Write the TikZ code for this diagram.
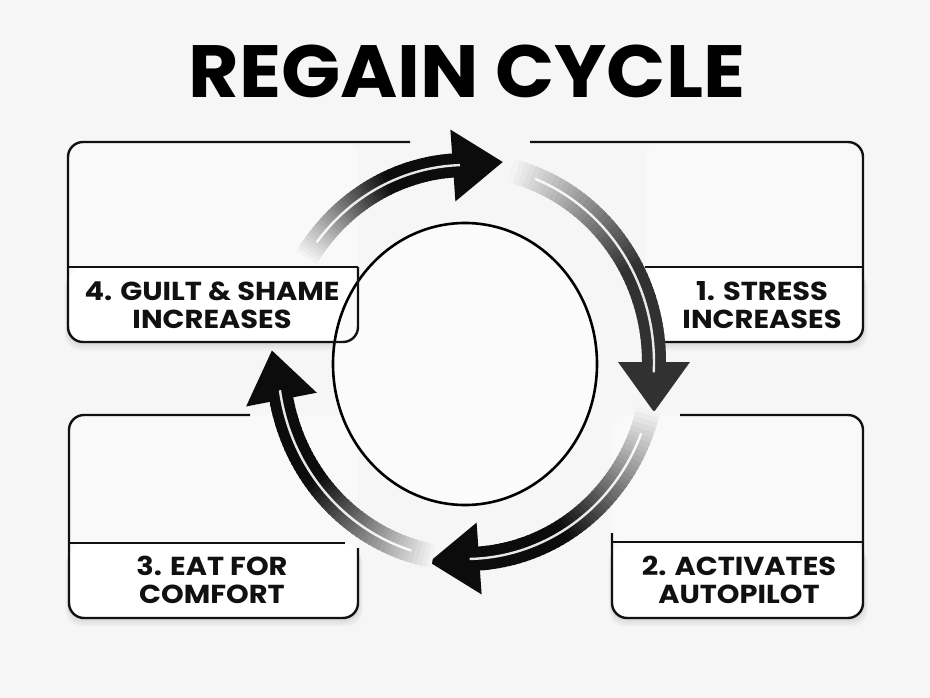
\documentclass[tikz,border=0pt]{standalone}
\usepackage{fontspec}
\setmainfont{Poppins}
\newfontfamily\lblfont{Poppins}[FakeStretch=1.11]
\newfontfamily\ttlfont{Poppins}[FakeStretch=1.05]
\definecolor{bgc}{HTML}{F6F6F6}
\definecolor{boxc}{HTML}{F9F9F9}
\definecolor{inkc}{HTML}{111111}
\tikzset{
  boxline/.style={draw=inkc, line width=2.4pt, rounded corners=15pt},
  divline/.style={draw=inkc, line width=2.4pt},
  lbl/.style={font=\lblfont\fontsize{26}{27.5}\selectfont\bfseries, text=inkc, align=center, inner sep=0pt},
  ttl/.style={font=\ttlfont\fontsize{74}{80}\selectfont\bfseries, text=black, inner sep=0pt, anchor=base},
  ring/.style={draw=black, line width=2.6pt},
}
\newcommand{\shadowbox}[4]{%
  \foreach \k in {1,...,8}{
    \fill[black, opacity=0.014, rounded corners=16pt] ({#1-\k*0.4},{#2+\k*0.6}) rectangle ({#3+\k*0.6},{#4+\k*1.1});
  }}
\newcommand{\cyclearrow}[4]{% tail angle, base angle, max darkness, label
  \foreach \i in {0,...,47}{
    \pgfmathsetmacro\ta{#1+(#2-#1)*\i/48}
    \pgfmathsetmacro\tb{#1+(#2-#1)*(\i+1.4)/48}
    \pgfmathsetmacro\pp{#3*min(1,1.6*(\i+0.5)/48)}
    \draw[line width=24pt, color=black!\pp!bgc] plot[domain=\ta:\tb, samples=4] ({466+188*cos(\x)},{362-197*sin(\x)});
  }
  \coordinate (#4tip) at ({466+188*cos(#2)+50*sin(#2)},{362-197*sin(#2)+50*cos(#2)});
  \coordinate (#4c1) at ({466+(188+36)*cos(#2)},{362-(197+36)*sin(#2)});
  \coordinate (#4c2) at ({466+(188-36)*cos(#2)},{362-(197-36)*sin(#2)});
  \fill[black!#3!bgc] (#4tip) -- (#4c1) -- (#4c2) -- cycle;
  \pgfmathsetmacro\ts{#1+(#2-#1)*0.1}
  \pgfmathsetmacro\te{#2+(#2-#1)*0.04}
  \draw[white, line width=2.4pt, opacity=0.9] plot[domain=\ts:\te, samples=40] ({466+188*cos(\x)},{362-197*sin(\x)});
}
\begin{document}
\begin{tikzpicture}[x=1pt,y=-1pt]
\fill[bgc] (0,0) rectangle (930,698);
\useasboundingbox (0,0) rectangle (930,698);

% title
\node[ttl] (title) at (467,98) {REGAIN CYCLE};

% shadows
\shadowbox{68}{267}{358}{342}
\shadowbox{645}{267}{863}{342}
\shadowbox{69}{543}{358}{618}
\shadowbox{612}{542}{863}{618}

% box fills
\fill[boxc, rounded corners=15pt] (68,142) rectangle (358,342);
\fill[boxc, rounded corners=15pt] (645,142) rectangle (863,342);
\fill[boxc, rounded corners=15pt] (69,415) rectangle (358,618);
\fill[boxc, rounded corners=15pt] (612,415) rectangle (863,618);
\fill[white, rounded corners=15pt] (68,267) rectangle (358,342);
\fill[white, rounded corners=15pt] (645,267) rectangle (863,342);
\fill[white, rounded corners=15pt] (69,543) rectangle (358,618);
\fill[white, rounded corners=15pt] (612,542) rectangle (863,618);

% inner circle
\fill[white!60!bgc] (465,364) ellipse [x radius=132pt, y radius=141pt];
\draw[ring] (465,364) ellipse [x radius=132pt, y radius=141pt];

% box outlines
\draw[boxline] (410,142) -- (68,142) -- (68,342) -- (358,342) -- (358,267);
\draw[divline] (68,267) -- (358,267);
\draw[boxline] (530,142) -- (863,142) -- (863,342) -- (665,342);
\draw[divline] (645,267) -- (863,267);
\draw[boxline] (250,415) -- (69,415) -- (69,618) -- (358,618) -- (358,548);
\draw[divline] (69,543) -- (345,543);
\draw[boxline] (680,415) -- (863,415) -- (863,618) -- (612,618) -- (612,533);
\draw[divline] (612,542) -- (863,542);

% labels
\node[lbl] (l4) at (212,305) {4. GUILT \& SHAME\\INCREASES};
\node[lbl] (l1) at (762,305) {1. STRESS\\INCREASES};
\node[lbl] (l3) at (212,580) {3. EAT FOR\\COMFORT};
\node[lbl] (l2) at (739,580) {2. ACTIVATES\\AUTOPILOT};

% cycle arrows
\cyclearrow{148}{94}{95}{top}
\cyclearrow{76}{0}{80}{rgt}
\cyclearrow{-14}{-86}{95}{bot}
\cyclearrow{-100}{-169}{95}{lft}
\end{tikzpicture}
\end{document}
